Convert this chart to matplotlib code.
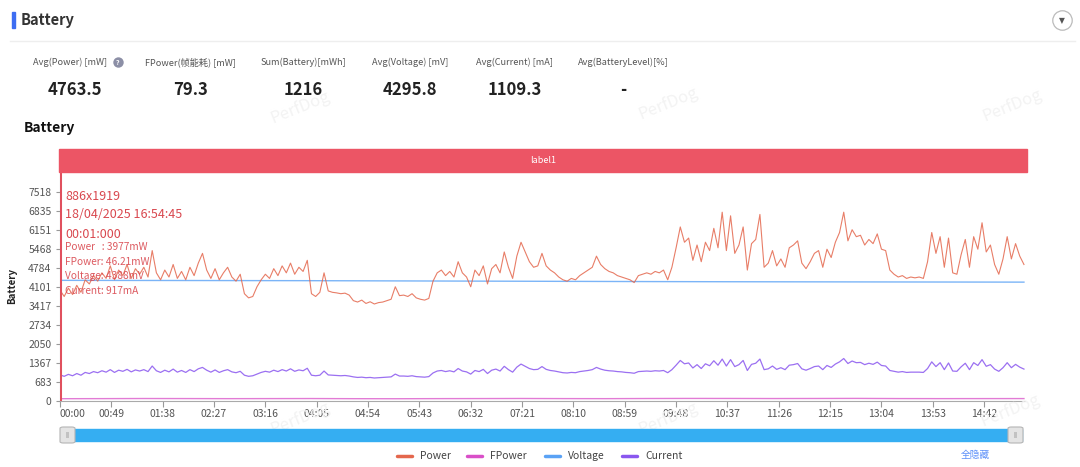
import numpy as np
import matplotlib
matplotlib.use("Agg")
import matplotlib.pyplot as plt
from matplotlib.patches import Rectangle, FancyBboxPatch
from matplotlib.lines import Line2D

plt.rcParams['font.family'] = ['Noto Sans CJK SC', 'DejaVu Sans']

# ---------------- data ----------------
sample_step_s = 4
power = [3977, 3750, 4050, 3820, 4150, 3900, 4350, 4200, 4500, 4300,
         4600, 4400, 4850, 4350, 4700, 4500, 4900, 4400, 4750, 4550,
         4800, 4450, 5400, 4600, 4350, 4700, 4450, 4900, 4400, 4650,
         4350, 4800, 4500, 4950, 5300, 4700, 4400, 4750, 4350, 4600,
         4800, 4450, 4300, 4550, 3850, 3700, 3750, 4100, 4350, 4550,
         4400, 4750, 4500, 4850, 4600, 4950, 4550, 4800, 4650, 5050,
         3850, 3750, 3900, 4600, 3950, 3900, 3880, 3850, 3870, 3800,
         3600, 3550, 3620, 3500, 3560, 3480, 3530, 3550, 3600, 3650,
         4100, 3780, 3800, 3750, 3850, 3700, 3650, 3620, 3680, 4300,
         4600, 4700, 4500, 4650, 4450, 5000, 4600, 4450, 4100, 4700,
         4500, 4850, 4200, 4750, 4900, 4600, 5350, 4800, 4400, 5200,
         5700, 5350, 5000, 4800, 4850, 5300, 4850, 4700, 4600, 4450,
         4350, 4300, 4400, 4350, 4500, 4600, 4700, 4800, 5200, 4900,
         4750, 4650, 4600, 4500, 4450, 4400, 4350, 4250, 4500, 4550,
         4600, 4550, 4650, 4600, 4700, 4350, 4800, 5500, 6250, 5700,
         5850, 5050, 5600, 5000, 5700, 5400, 6200, 5500, 6780, 5400,
         6650, 5300, 5600, 6250, 4700, 5650, 5800, 6700, 4800, 4950,
         5400, 4850, 5100, 4800, 5500, 5600, 5750, 4950, 4750, 5000,
         5300, 5400, 4800, 5450, 5150, 5700, 6050, 6780, 5750, 6150,
         5900, 5950, 5600, 5800, 5650, 6000, 5450, 5400, 4700, 4550,
         4450, 4500, 4400, 4450, 4420, 4450, 4400, 5000, 6050, 5300,
         5900, 4800, 5850, 4600, 4550, 5250, 5800, 4800, 5900, 5450,
         6400, 5350, 5600, 4900, 4550, 5100, 5900, 5100, 5650, 5200,
         4900]
current = [930, 880, 950, 900, 980, 920, 1020, 980, 1050, 1010,
           1080, 1030, 1120, 1020, 1100, 1060, 1130, 1040, 1110, 1070,
           1120, 1050, 1250, 1080, 1020, 1100, 1040, 1140, 1030, 1090,
           1020, 1120, 1050, 1150, 1200, 1100, 1030, 1110, 1020, 1080,
           1120, 1040, 1010, 1060, 920, 880, 900, 960, 1020, 1060,
           1030, 1100, 1050, 1120, 1070, 1150, 1060, 1110, 1080, 1170,
           920, 900, 920, 1070, 930, 920, 910, 900, 910, 890,
           860, 840, 850, 830, 840, 820, 830, 840, 850, 860,
           960, 890, 890, 880, 900, 870, 860, 850, 870, 1000,
           1070, 1090, 1050, 1080, 1040, 1160, 1070, 1040, 960, 1090,
           1050, 1130, 980, 1100, 1140, 1070, 1240, 1120, 1030, 1210,
           1320, 1240, 1160, 1120, 1130, 1230, 1130, 1090, 1070, 1040,
           1010, 1000, 1020, 1010, 1050, 1070, 1090, 1120, 1200, 1140,
           1100, 1080, 1070, 1050, 1040, 1020, 1010, 990, 1050, 1060,
           1070, 1060, 1080, 1070, 1090, 1010, 1120, 1280, 1450, 1330,
           1360, 1180, 1300, 1160, 1330, 1260, 1440, 1280, 1500, 1250,
           1480, 1230, 1300, 1450, 1090, 1310, 1350, 1500, 1120, 1150,
           1250, 1130, 1190, 1120, 1280, 1300, 1340, 1150, 1100, 1160,
           1230, 1250, 1120, 1270, 1200, 1320, 1400, 1520, 1340, 1430,
           1370, 1380, 1300, 1350, 1310, 1390, 1270, 1250, 1090, 1060,
           1030, 1050, 1020, 1030, 1030, 1030, 1020, 1160, 1400, 1230,
           1370, 1120, 1360, 1070, 1060, 1220, 1350, 1120, 1370, 1270,
           1480, 1240, 1300, 1140, 1060, 1190, 1370, 1190, 1310, 1210,
           1140]
slow_step_s = 40
voltage = [4330, 4328, 4326, 4324, 4322, 4320, 4318, 4314, 4310, 4306,
           4302, 4298, 4294, 4290, 4286, 4283, 4280, 4278, 4276, 4274,
           4272, 4270, 4268, 4266]
fpower = [75, 78, 82, 80, 77, 79, 81, 76, 74, 78,
          80, 83, 79, 77, 82, 85, 84, 81, 83, 86,
          80, 78, 79, 80]

yticks = [0, 683, 1367, 2050, 2734, 3417, 4101, 4784, 5468, 6151, 6835, 7518]
xtick_step_s = 49
n_xticks = 19

stat_labels = ["Avg(Power) [mW]", "FPower(帧能耗) [mW]", "Sum(Battery)[mWh]",
               "Avg(Voltage) [mV]", "Avg(Current) [mA]", "Avg(BatteryLevel)[%]"]
stat_values = ["4763.5", "79.3", "1216", "4295.8", "1109.3", "-"]
series_names = ["Power", "FPower", "Voltage", "Current"]
series_colors = ["#e4674d", "#d94fc8", "#5aa2f5", "#8a57ef"]
tooltip_lines = ["886x1919", "18/04/2025 16:54:45", "00:01:000"]
tooltip_small = ["Power   : 3977mW", "FPower: 46.21mW", "Voltage: 4388mV", "Current: 917mA"]

# ---------------- figure ----------------
W, H = 1080, 467
fig = plt.figure(figsize=(W / 100, H / 100), dpi=100)
fig.patch.set_facecolor("white")

def fx(x):
    return x / W

def fy(y):
    return 1 - y / H

def ftext(x, y, s, **kw):
    fig.text(fx(x), fy(y), s, **kw)

def fdot(x, y, ms, fc, ec, mew=0.0):
    fig.add_artist(Line2D([fx(x)], [fy(y)], transform=fig.transFigure, marker="o", ms=ms,
                          markerfacecolor=fc, markeredgecolor=ec, markeredgewidth=mew, ls="none"))

# header
fig.patches.append(Rectangle((fx(12), fy(28)), fx(3), 16 / H, transform=fig.transFigure,
                             color="#3d6df2", zorder=5))
ftext(21, 20, "Battery", fontsize=10.5, fontweight="bold", color="#333333", va="center")
fig.add_artist(Line2D([fx(10), fx(1075)], [fy(41), fy(41)], transform=fig.transFigure,
                      color="#eeeeee", lw=1))
fdot(1062, 20, 14, "white", "#bbbbbb", 0.9)
ftext(1062, 21, "▼", fontsize=5.5, color="#555555", ha="center", va="center", family="DejaVu Sans")

# watermarks
for (wx, wy) in [(300, 107), (668, 103), (1012, 105), (300, 418), (668, 418), (1010, 410)]:
    ftext(wx, wy, "PerfDog", fontsize=12, color="#f3f3f3", rotation=22,
          ha="center", va="center", zorder=0)

# stats
stat_cx = [70, 190, 303, 410, 515, 623]
for cx, lab, val in zip(stat_cx, stat_labels, stat_values):
    ftext(cx, 62, lab, fontsize=6.6, color="#555555", ha="center", va="center")
    ftext(cx + (5 if val == "4763.5" else 0), 90, val, fontsize=12, fontweight="bold",
          color="#222222", ha="center", va="center")
fdot(118, 62, 7.5, "#8c8fa6", "none")
ftext(118, 62.5, "?", fontsize=5, color="white", ha="center", va="center", fontweight="bold")

ftext(24, 128, "Battery", fontsize=10, fontweight="bold", color="#111111", va="center")

# axes
left_px, right_px, bot_px, top_px = 60, 1025, 400.8, 172
ax = fig.add_axes([fx(left_px), fy(bot_px), (right_px - left_px) / W, (bot_px - top_px) / H])
ax.set_facecolor("none")

t_fast = np.arange(len(power)) * sample_step_s
t_slow = np.arange(len(voltage)) * slow_step_s

ax.plot(t_slow, fpower, color=series_colors[1], lw=1.0, alpha=0.75, zorder=2)
ax.plot(t_slow, voltage, color=series_colors[2], lw=1.0, alpha=0.8, zorder=2)
ax.plot(t_fast, current, color=series_colors[3], lw=0.9, alpha=0.85, zorder=3)
ax.plot(t_fast, power, color=series_colors[0], lw=0.8, alpha=0.85, zorder=3)

x_max = t_fast[-1] + 1
ymax = 8225
ax.set_xlim(0, x_max)
ax.set_ylim(0, ymax)
ax.set_yticks(yticks)
ax.set_yticklabels([str(v) for v in yticks])
xt = [i * xtick_step_s for i in range(n_xticks)]
ax.set_xticks(xt)
ax.set_xticklabels([f"{v // 60:02d}:{v % 60:02d}" for v in xt])
ax.tick_params(axis="y", length=3, color="#999999", labelsize=7.5, labelcolor="#555555", pad=3)
ax.tick_params(axis="x", length=4, color="#999999", labelsize=7.5, labelcolor="#555555", pad=2)
labels = ax.get_xticklabels()
labels[0].set_horizontalalignment("left")
for s in ["top", "right"]:
    ax.spines[s].set_visible(False)
ax.spines["left"].set_color("#999999")
ax.spines["left"].set_linewidth(0.8)
ax.spines["bottom"].set_color("#aaaaaa")
ax.spines["bottom"].set_linewidth(0.8)
ax.set_ylabel("Battery", fontsize=7, fontweight="bold", color="#222222", labelpad=8)

# cursor line
ax.axvline(0, color="#e0505e", lw=2.2, zorder=6)

# tooltip text
tip_color = "#d9484f"
for yy, s in zip([196, 215, 234], tooltip_lines):
    ftext(65, yy, s, fontsize=9, color=tip_color, va="center")
for yy, s in zip([247, 262, 276, 291], tooltip_small):
    ftext(65, yy, s, fontsize=7.3, color=tip_color, va="center", alpha=0.9)

# label band
fig.patches.append(Rectangle((fx(59), fy(172)), (1027 - 59) / W, 23 / H, transform=fig.transFigure,
                             color="#ec5565", zorder=4))
ftext(543, 160.5, "label1", fontsize=6.5, color="white", ha="center", va="center", zorder=5)

# slider
fig.patches.append(Rectangle((fx(62), fy(441)), (1022 - 62) / W, 12 / H, transform=fig.transFigure,
                             color="#35aef2", zorder=3))
for hx in [60, 1008]:
    fig.patches.append(FancyBboxPatch((fx(hx), fy(443)), 15 / W, 16 / H, transform=fig.transFigure,
                                      boxstyle="round,pad=0,rounding_size=0.003",
                                      facecolor="#e4e4e4", edgecolor="#b5b5b5", lw=0.8, zorder=4))
    ftext(hx + 7.5, 435, "|||", fontsize=4, color="#888888", ha="center", va="center", zorder=5)

# legend
leg_x = [397, 467, 545, 622]
for lx, name, col in zip(leg_x, series_names, series_colors):
    fig.add_artist(Line2D([fx(lx), fx(lx + 15)], [fy(456), fy(456)], transform=fig.transFigure,
                          color=col, lw=2.5, solid_capstyle="round"))
    ftext(lx + 23, 456, name, fontsize=7.5, color="#444444", va="center")
ftext(975, 455, "全隐藏", fontsize=7, color="#5b8ff9", ha="center", va="center")

fig.savefig("out.png", dpi=100)
